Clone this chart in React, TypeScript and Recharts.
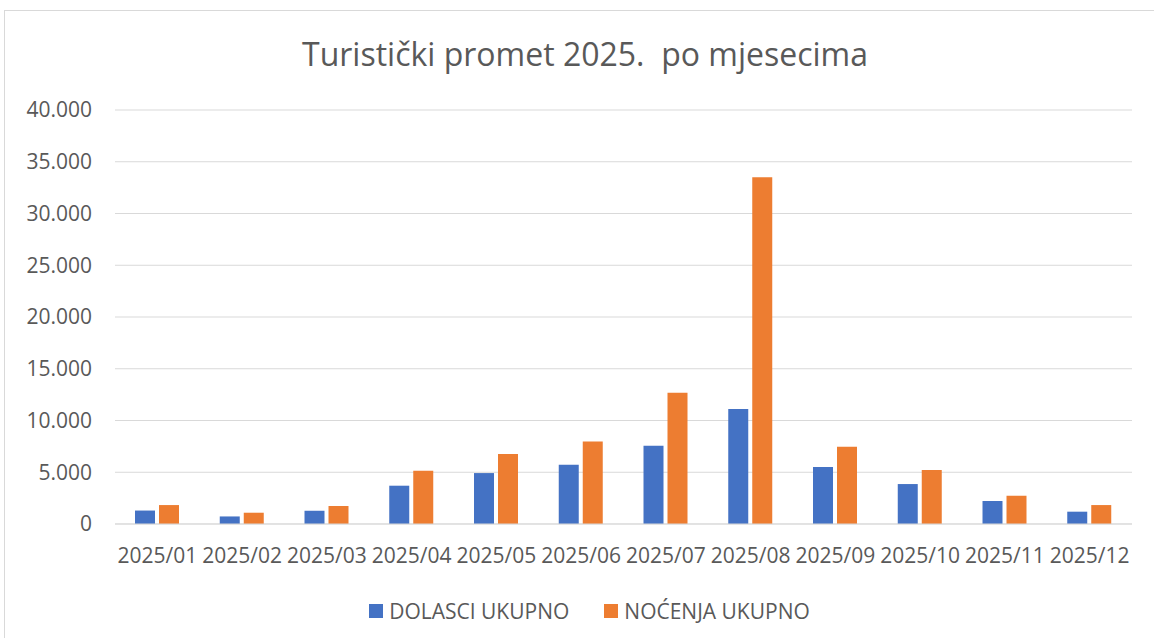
import React from "react";
import { BarChart, Bar, XAxis, YAxis, CartesianGrid, Legend } from "recharts";

const months = ["2025/01", "2025/02", "2025/03", "2025/04", "2025/05", "2025/06", "2025/07", "2025/08", "2025/09", "2025/10", "2025/11", "2025/12"];
const dolasci = [1300, 730, 1280, 3700, 4920, 5720, 7560, 11100, 5500, 3860, 2220, 1190];
const nocenja = [1830, 1090, 1740, 5140, 6760, 7970, 12670, 33500, 7460, 5210, 2730, 1830];
const yTicks = [0, 5000, 10000, 15000, 20000, 25000, 30000, 35000, 40000];
const title = "Turistički promet 2025.  po mjesecima";
const seriesNames = ["DOLASCI UKUPNO", "NOĆENJA UKUPNO"];

const data = months.map((m, i) => ({ month: m, dolasci: dolasci[i], nocenja: nocenja[i] }));

const FONT = "'Open Sans', sans-serif";
const TEXT = "#595959";
const GRID = "#D9D9D9";

const fmt = (v: number) => (v === 0 ? "0" : v.toLocaleString("de-DE"));

const LegendContent = (props: any) => {
  const payload = props.payload || [];
  return (
    <div style={{ height: 54, display: "flex", alignItems: "center", justifyContent: "center", paddingLeft: 47, fontFamily: FONT, fontSize: 21, color: TEXT }}>
      {payload.map((p: any, i: number) => (
        <div key={i} style={{ display: "flex", alignItems: "center", marginRight: i === 0 ? 35 : 0 }}>
          <div style={{ width: 14, height: 14, background: p.color, marginRight: 6 }} />
          <span>{p.value}</span>
        </div>
      ))}
    </div>
  );
};

export default function App() {
  return (
    <div style={{ position: "absolute", left: 0, top: 0, width: 1154, height: 638, overflow: "hidden", background: "#fff" }}>
      <div style={{ position: "absolute", left: 4, top: 10, width: 1200, height: 700, border: `1px solid ${GRID}` }} />
      <svg width={1154} height={100} style={{ position: "absolute", left: 0, top: 0 }}>
        <text x={585} y={66} textAnchor="middle" fontFamily={FONT} fontSize={32} fill={TEXT} style={{ whiteSpace: "pre" }}>
          {title}
        </text>
      </svg>
      <div style={{ position: "absolute", left: 0, top: 0 }}>
        <BarChart width={1154} height={638} data={data} margin={{ top: 110, right: 22, bottom: 0, left: 0 }} barSize={20} barGap={4}>
          <CartesianGrid vertical={false} stroke={GRID} strokeWidth={1} />
          <XAxis
            dataKey="month"
            interval={0}
            height={60}
            tickLine={false}
            axisLine={{ stroke: GRID }}
            tickSize={0}
            tickMargin={24}
            tick={{ fontFamily: FONT, fontSize: 21, fill: TEXT }}
          />
          <YAxis
            width={115}
            domain={[0, 40000]}
            ticks={yTicks}
            tickFormatter={fmt}
            axisLine={false}
            tickLine={false}
            tickSize={0}
            tickMargin={23}
            tick={{ fontFamily: FONT, fontSize: 21, fill: TEXT }}
          />
          <Legend verticalAlign="bottom" content={<LegendContent />} />
          <Bar dataKey="dolasci" name={seriesNames[0]} fill="#4472C4" isAnimationActive={false} />
          <Bar dataKey="nocenja" name={seriesNames[1]} fill="#ED7D31" isAnimationActive={false} />
        </BarChart>
      </div>
    </div>
  );
}
